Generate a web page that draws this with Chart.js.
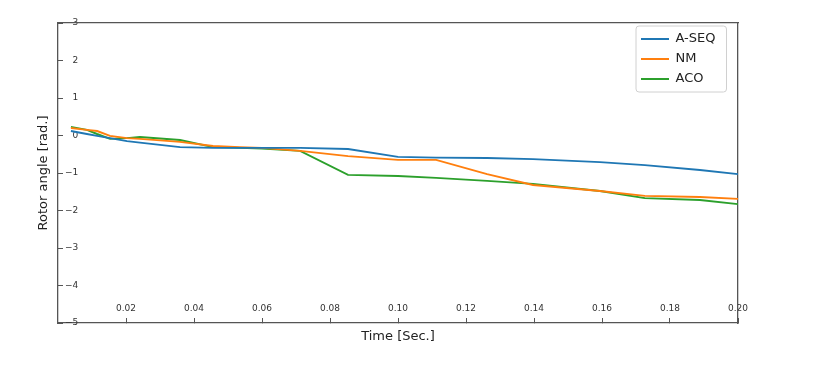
<!DOCTYPE html>
<html>
<head>
<meta charset="utf-8">
<script src="https://cdn.jsdelivr.net/npm/chart.js@4"></script>
<style>
html,body{margin:0;padding:0;background:#fff;}
#wrap{width:821px;height:371px;}
</style>
</head>
<body>
<div id="wrap"><canvas id="c" width="821" height="371"></canvas></div>
<script>
// Time samples [s]
const timeSec = [0.0038, 0.0085, 0.0115, 0.0153, 0.0203, 0.0241, 0.0359, 0.0456, 0.0535, 0.0600,
                 0.0712, 0.0853, 0.1000, 0.1112, 0.1262, 0.1397, 0.1594, 0.1726, 0.1888, 0.2000];
// Rotor angle [rad.]
const aSeq = [0.12, 0.04, -0.01, -0.07, -0.15, -0.19, -0.31, -0.33, -0.33, -0.33,
              -0.33, -0.36, -0.57, -0.59, -0.60, -0.63, -0.71, -0.79, -0.92, -1.03];
const nm   = [0.20, 0.15, 0.12, -0.01, -0.07, -0.09, -0.17, -0.28, -0.31, -0.33,
              -0.41, -0.55, -0.65, -0.65, -1.03, -1.32, -1.48, -1.61, -1.64, -1.69];
const aco  = [0.23, 0.15, 0.04, -0.09, -0.07, -0.04, -0.12, -0.31, -0.33, -0.35,
              -0.41, -1.05, -1.08, -1.13, -1.21, -1.29, -1.48, -1.67, -1.72, -1.83];
const seriesNames = ['A-SEQ', 'NM', 'ACO'];
const xTickValues = [0.02, 0.04, 0.06, 0.08, 0.10, 0.12, 0.14, 0.16, 0.18, 0.20];
const yTickValues = [-5, -4, -3, -2, -1, 0, 1, 2, 3];

const FONT = "'DejaVu Sans', 'Liberation Sans', sans-serif";
const colors = ['#1f77b4', '#ff7f0e', '#2ca02c'];
const toPts = arr => timeSec.map((t, i) => ({x: t, y: arr[i]}));
const fmtY = v => (v < 0 ? '\u2212' + Math.abs(v) : String(v));

const legendPlacer = {
  id: 'legendPlacer',
  afterLayout(chart) {
    const lg = chart.legend;
    lg.left = 634;
    lg.top = 25.5;
    lg.right = lg.left + lg.width;
    lg.bottom = lg.top + lg.height;
  },
  beforeDraw(chart) {
    const lg = chart.legend;
    const hb = lg.legendHitBoxes;
    if (!hb || !hb.length) return;
    const x0 = Math.min(...hb.map(h => h.left)) - 5;
    const y0 = Math.min(...hb.map(h => h.top)) - 6.5;
    const x1 = Math.max(...hb.map(h => h.left + h.width)) + 11;
    const y1 = Math.max(...hb.map(h => h.top + h.height)) + 6.5;
    const r = 3;
    const ctx = chart.ctx;
    ctx.save();
    ctx.beginPath();
    ctx.moveTo(x0 + r, y0);
    ctx.arcTo(x1, y0, x1, y1, r);
    ctx.arcTo(x1, y1, x0, y1, r);
    ctx.arcTo(x0, y1, x0, y0, r);
    ctx.arcTo(x0, y0, x1, y0, r);
    ctx.closePath();
    ctx.fillStyle = 'rgba(255,255,255,0.8)';
    ctx.fill();
    ctx.strokeStyle = '#d0d0d0';
    ctx.lineWidth = 1;
    ctx.stroke();
    ctx.restore();
  }
};

const lineDs = (label, data, color) => ({
  label, data: toPts(data), borderColor: color, backgroundColor: color,
  borderWidth: 1.9, pointRadius: 0, tension: 0, fill: false
});

new Chart(document.getElementById('c'), {
  type: 'line',
  data: {
    datasets: [
      lineDs(seriesNames[0], aSeq, colors[0]),
      lineDs(seriesNames[1], nm, colors[1]),
      lineDs(seriesNames[2], aco, colors[2])
    ]
  },
  options: {
    responsive: false,
    animation: false,
    devicePixelRatio: 1,
    layout: {padding: {left: 0, right: 83, top: 23, bottom: 0}},
    plugins: {
      tooltip: {enabled: false},
      legend: {
        position: 'chartArea',
        align: 'start',
        labels: {
          usePointStyle: true,
          pointStyle: 'line',
          pointStyleWidth: 28,
          padding: 7,
          color: '#222',
          font: {family: FONT, size: 13}
        }
      }
    },
    scales: {
      x: {
        type: 'linear',
        position: 'bottom',
        min: 0, max: 0.2,
        afterBuildTicks: s => { s.ticks = xTickValues.map(v => ({value: v})); },
        afterFit: s => { s.height = 48; },
        grid: {drawOnChartArea: false, drawTicks: true, tickLength: -5, color: '#555', tickWidth: 1},
        border: {display: true, color: '#555', width: 1.3},
        ticks: {
          mirror: true, padding: 9, color: '#333', maxRotation: 0, autoSkip: false,
          font: {family: FONT, size: 9},
          callback: v => Number(v).toFixed(2)
        },
        title: {display: true, text: 'Time [Sec.]', color: '#222',
                font: {family: FONT, size: 13}, padding: {top: 0, bottom: 27}}
      },
      y: {
        type: 'linear',
        position: 'left',
        min: -5, max: 3,
        afterBuildTicks: s => { s.ticks = yTickValues.map(v => ({value: v})); },
        afterFit: s => { s.width = 58; },
        grid: {drawOnChartArea: false, drawTicks: true, tickLength: -5, color: '#555', tickWidth: 1},
        border: {display: true, color: '#555', width: 1.3},
        ticks: {
          mirror: true, padding: 7, color: '#333', crossAlign: 'far', autoSkip: false,
          font: {family: FONT, size: 9},
          callback: v => fmtY(v)
        },
        title: {display: true, text: 'Rotor angle [rad.]', color: '#222',
                font: {family: FONT, size: 13}, padding: {top: 36, bottom: 0}}
      },
      xTop: {
        type: 'linear', position: 'top', display: true,
        afterFit: s => { s.height = 0; },
        grid: {display: false, drawOnChartArea: false, drawTicks: false},
        border: {display: true, color: '#555', width: 1.3},
        ticks: {display: false}
      },
      yRight: {
        type: 'linear', position: 'right', display: true,
        afterFit: s => { s.width = 0; },
        grid: {display: false, drawOnChartArea: false, drawTicks: false},
        border: {display: true, color: '#555', width: 1.3},
        ticks: {display: false}
      }
    }
  },
  plugins: [legendPlacer]
});
</script>
</body>
</html>
